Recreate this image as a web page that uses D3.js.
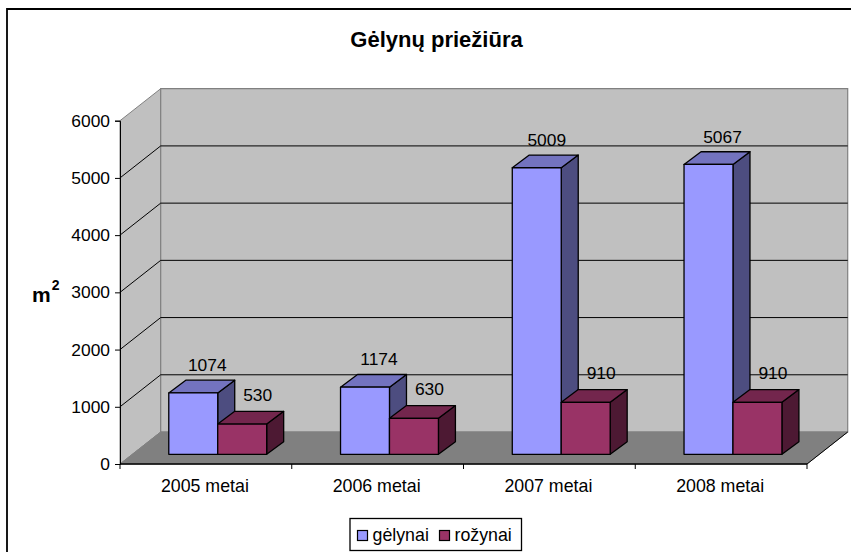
<!DOCTYPE html>
<html>
<head>
<meta charset="utf-8">
<script src="https://cdn.jsdelivr.net/npm/d3@7"></script>
<style>
    html, body { margin: 0; padding: 0; background: #fff; overflow: hidden; }
    svg { display: block; }
    text { font-family: "Liberation Sans", Arial, sans-serif; fill: #000; }
</style>
</head>
<body>
<div id="chart"></div>
<script>
const chartTitle = 'Gėlynų priežiūra';
const categories = ['2005 metai', '2006 metai', '2007 metai', '2008 metai'];
const seriesNames = ['gėlynai', 'rožynai'];
const gelynai = [1074, 1174, 5009, 5067];
const rozynai = [530, 630, 910, 910];
const yTicks = [0, 1000, 2000, 3000, 4000, 5000, 6000];

const seriesValues = [gelynai, rozynai];
const colors = [
    {front: '#9999ff', top: '#7373bf', side: '#4d4d80'},
    {front: '#993366', top: '#73264d', side: '#4d1933'}
];

const width = 851, height = 552;
const plot = {left: 120, right: 807, top: 120.7, bottom: 464};
const depth = {x: 40.7, y: 32};
const barDepth = {x: 17, y: 12.7};
const fontSize = '17.4px';

let svg = d3.select('#chart').append('svg').attr('width', width).attr('height', height);

// outer frame, only the left and top edges are inside the picture
svg.append('path').attr('d', d3.line()([[7, height], [7, 9], [width, 9]]))
    .attr('fill', 'none').attr('stroke', '#000').attr('stroke-width', 1.8);

let xScale = d3.scaleBand().domain(categories).range([plot.left, plot.right])
    .paddingInner(0.43).paddingOuter(0.215);
let xSeries = d3.scaleBand().domain(d3.range(seriesNames.length)).range([0, xScale.bandwidth()]);
let yScale = d3.scaleLinear().domain([0, 6000]).range([plot.bottom, plot.top]);

let poly = function(points) { return d3.line()(points) + 'Z'; };

// walls and floor
let walls = svg.append('g');
walls.append('path')
    .attr('d', poly([[plot.left, plot.top], [plot.left + depth.x, plot.top - depth.y],
        [plot.left + depth.x, plot.bottom - depth.y], [plot.left, plot.bottom]]))
    .attr('fill', '#c0c0c0').attr('stroke', '#808080');
walls.append('path')
    .attr('d', poly([[plot.left + depth.x, plot.top - depth.y], [plot.right + depth.x, plot.top - depth.y],
        [plot.right + depth.x, plot.bottom - depth.y], [plot.left + depth.x, plot.bottom - depth.y]]))
    .attr('fill', '#c0c0c0').attr('stroke', '#808080').attr('stroke-width', 1.2);
walls.append('path')
    .attr('d', poly([[plot.left, plot.bottom], [plot.left + depth.x, plot.bottom - depth.y],
        [plot.right + depth.x, plot.bottom - depth.y], [plot.right, plot.bottom]]))
    .attr('fill', '#808080').attr('stroke', '#808080');

// grid lines, side wall and back wall
let grid = svg.append('g').attr('fill', 'none').attr('stroke', '#000').attr('stroke-width', 1);
yTicks.filter(function(t) { return t > 0 && t < 6000; }).forEach(function(t) {
    grid.append('path').attr('d', d3.line()([
        [plot.left, yScale(t)],
        [plot.left + depth.x, yScale(t) - depth.y],
        [plot.right + depth.x, yScale(t) - depth.y]
    ]));
});

// floor edge on the right
svg.append('line')
    .attr('x1', plot.right).attr('y1', plot.bottom)
    .attr('x2', plot.right + depth.x).attr('y2', plot.bottom - depth.y)
    .attr('stroke', '#000');

// bars
let offX = (depth.x - barDepth.x) / 2;
let offY = (depth.y - barDepth.y) / 2;
let bars = svg.append('g').attr('stroke', '#000').attr('stroke-width', 1.3).attr('stroke-linejoin', 'round');
let labels = [];
categories.forEach(function(cat, i) {
    seriesNames.forEach(function(name, s) {
        let value = seriesValues[s][i];
        let x0 = xScale(cat) + xSeries(s) + offX;
        let x1 = x0 + xSeries.bandwidth();
        let y0 = yScale(value) - offY;
        let y1 = yScale(0) - offY;
        let g = bars.append('g');
        g.append('path').attr('fill', colors[s].side)
            .attr('d', poly([[x1, y0], [x1 + barDepth.x, y0 - barDepth.y], [x1 + barDepth.x, y1 - barDepth.y], [x1, y1]]));
        g.append('path').attr('fill', colors[s].top)
            .attr('d', poly([[x0, y0], [x0 + barDepth.x, y0 - barDepth.y], [x1 + barDepth.x, y0 - barDepth.y], [x1, y0]]));
        g.append('rect').attr('fill', colors[s].front)
            .attr('x', x0).attr('y', y0).attr('width', x1 - x0).attr('height', y1 - y0);
        // 5009 sits a bit further left than the other labels in the original
        let dx = value === 5009 ? 10 : 14 + s * 1.5;
        labels.push({value: value, x: (x0 + x1) / 2 + dx, y: y0 - barDepth.y - 9 - s * 1.5});
    });
});

// value labels
svg.append('g').selectAll('text').data(labels).enter().append('text')
    .attr('x', function(d) { return d.x; })
    .attr('y', function(d) { return d.y; })
    .attr('text-anchor', 'middle')
    .style('font-size', fontSize)
    .text(function(d) { return d.value; });

// axes
let yAxis = svg.append('g').attr('transform', 'translate(' + plot.left + ',0)')
    .call(d3.axisLeft(yScale).tickValues(yTicks).tickSize(5).tickPadding(5).tickFormat(d3.format('d')));
yAxis.selectAll('text').style('font-size', fontSize);
yAxis.select('.domain').attr('stroke', '#000');

let xEdges = [plot.left].concat(categories.map(function(c, i) {
    return plot.left + (i + 1) * xScale.step();
}));
let xAxis = svg.append('g');
xAxis.append('line').attr('x1', plot.left).attr('x2', plot.right)
    .attr('y1', plot.bottom).attr('y2', plot.bottom).attr('stroke', '#000').attr('stroke-width', 1.4);
xAxis.selectAll('.tick').data(xEdges).enter().append('line').attr('class', 'tick')
    .attr('x1', function(d) { return d; }).attr('x2', function(d) { return d; })
    .attr('y1', plot.bottom).attr('y2', plot.bottom + 5).attr('stroke', '#000');
xAxis.selectAll('text').data(categories).enter().append('text')
    .attr('x', function(d) { return xScale(d) + xScale.bandwidth() / 2 - 1; })
    .attr('y', 492)
    .attr('text-anchor', 'middle')
    .style('font-size', '17.8px')
    .text(function(d) { return d; });

// title
svg.append('text').attr('x', 436.5).attr('y', 47).attr('text-anchor', 'middle')
    .style('font-size', '22px').style('font-weight', 'bold').text(chartTitle);

// y axis title
let yTitle = svg.append('text').attr('x', 32).attr('y', 302)
    .style('font-size', '21px').style('font-weight', 'bold');
yTitle.append('tspan').text('m');
yTitle.append('tspan').attr('dy', -12).attr('dx', 1).style('font-size', '14px').text('2');

// legend
let legend = svg.append('g');
legend.append('rect').attr('x', 350).attr('y', 518.5).attr('width', 171.5).attr('height', 32)
    .attr('fill', '#fff').attr('stroke', '#000').attr('stroke-width', 1.3);
let legendX = [357.5, 439.5];
seriesNames.forEach(function(name, s) {
    legend.append('rect').attr('x', legendX[s]).attr('y', 530.5).attr('width', 10).attr('height', 10)
        .attr('fill', colors[s].front).attr('stroke', '#000').attr('stroke-width', 1.2);
    legend.append('text').attr('x', legendX[s] + 15).attr('y', 541)
        .style('font-size', '17.8px').text(name);
});
</script>
</body>
</html>
